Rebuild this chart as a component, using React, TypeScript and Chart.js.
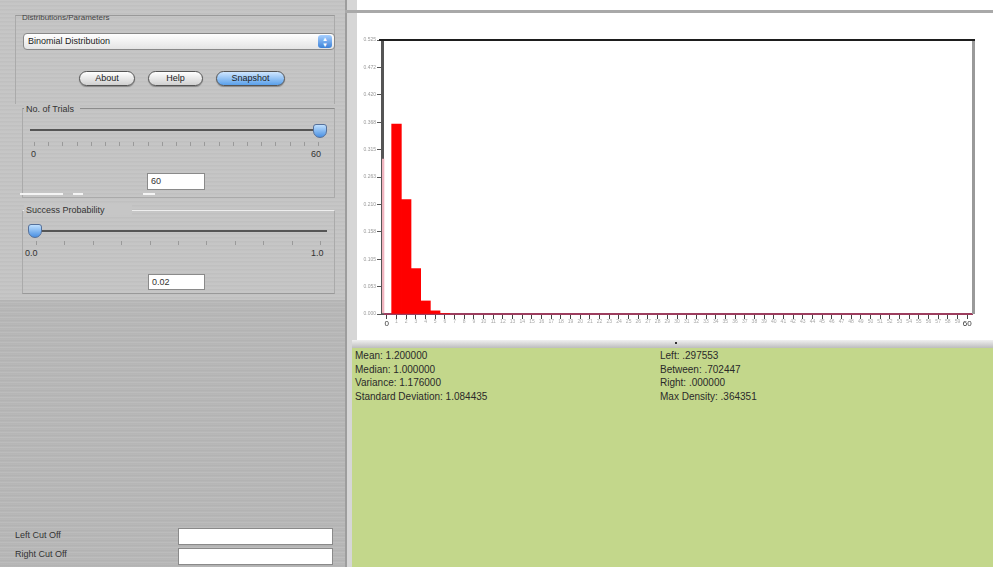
import React, { useEffect, useRef } from "react";
import Chart from "chart.js/auto";

// ---- data ----
const xCategories: string[] = Array.from({ length: 61 }, (_, i) => String(i));
const probabilities: number[] = [0.298, 0.364, 0.219, 0.087, 0.025, 0.006, 0.001];
const yMax = 0.525;
const yTickCount = 11;

const statsLeft: string[] = [
  "Mean: 1.200000",
  "Median: 1.000000",
  "Variance: 1.176000",
  "Standard Deviation: 1.084435",
];
const statsRight: string[] = [
  "Left: .297553",
  "Between: .702447",
  "Right: .000000",
  "Max Density: .364351",
];

const distributionName = "Binomial Distribution";
const trialsValue = "60";
const probValue = "0.02";

const framePlugin = {
  id: "frame",
  afterDraw(chart: any) {
    const { ctx, chartArea } = chart;
    ctx.save();
    ctx.strokeStyle = "#9a9a9a";
    ctx.lineWidth = 3;
    ctx.beginPath();
    ctx.moveTo(chartArea.right + 1.5, chartArea.top);
    ctx.lineTo(chartArea.right + 1.5, chartArea.bottom);
    ctx.stroke();
    ctx.strokeStyle = "#1e1e1e";
    ctx.lineWidth = 2;
    ctx.beginPath();
    ctx.moveTo(chartArea.left - 3, chartArea.top);
    ctx.lineTo(chartArea.right + 3, chartArea.top);
    ctx.stroke();
    ctx.restore();
  },
};

const font = "'Liberation Sans', Arial, sans-serif";

const abs = (l: number, t: number, w?: number, h?: number): React.CSSProperties => ({
  position: "absolute",
  left: l,
  top: t,
  width: w,
  height: h,
});

function Label({ x, y, text, size = 9, color = "#333", italic = false }: any) {
  return (
    <div
      style={{
        ...abs(x, y),
        fontSize: size,
        color,
        whiteSpace: "nowrap",
        lineHeight: "1",
        fontStyle: italic ? "italic" : "normal",
      }}
    >
      {text}
    </div>
  );
}

function Thumb({ x, y }: { x: number; y: number }) {
  return (
    <div
      style={{
        ...abs(x, y, 14, 14),
        background: "linear-gradient(#bfe0ff, #4a90e2)",
        border: "1px solid #55709a",
        borderRadius: "3px 3px 7px 7px",
        boxSizing: "border-box",
      }}
    />
  );
}

function Field({ x, y, w, h, text }: any) {
  return (
    <div
      style={{
        ...abs(x, y, w, h),
        background: "#fff",
        border: "1px solid #8a8a8a",
        boxSizing: "border-box",
        fontSize: 9,
        color: "#333",
        paddingLeft: 3,
        lineHeight: `${h - 2}px`,
      }}
    >
      {text}
    </div>
  );
}

function Button({ x, y, w, text, blue = false }: any) {
  return (
    <div
      style={{
        ...abs(x, y, w, 15),
        borderRadius: 8,
        border: "1px solid #555",
        boxSizing: "border-box",
        background: blue
          ? "linear-gradient(#cfe6ff, #5aa0ea)"
          : "linear-gradient(#ffffff, #d0d0d0)",
        fontSize: 9,
        color: "#222",
        textAlign: "center",
        lineHeight: "13px",
        boxShadow: "0 1px 1px rgba(0,0,0,0.3)",
      }}
    >
      {text}
    </div>
  );
}

function Ticks({ x1, x2, y, n }: any) {
  const items = [];
  for (let i = 0; i <= n; i++) {
    items.push(
      <div
        key={i}
        style={{
          ...abs(x1 + ((x2 - x1) * i) / n, y, 1, 4),
          background: "#9a9a9a",
        }}
      />
    );
  }
  return <>{items}</>;
}

function ChartPanel() {
  const ref = useRef<HTMLCanvasElement | null>(null);
  useEffect(() => {
    if (!ref.current) return;
    const chart = new Chart(ref.current, {
      type: "bar",
      data: {
        labels: xCategories,
        datasets: [
          {
            data: probabilities,
            backgroundColor: (c: any) => (c.dataIndex === 0 ? "rgba(0,0,0,0)" : "#ff0000"),
            borderColor: "#f0b4bf",
            borderWidth: (c: any) =>
              c.dataIndex === 0 ? { left: 2, top: 0, right: 0, bottom: 0 } : 0,
            borderSkipped: false,
            barPercentage: 1,
            categoryPercentage: 1,
          },
        ],
      },
      options: {
        animation: false,
        responsive: false,
        maintainAspectRatio: false,
        layout: { padding: { top: 28, right: 18, left: 0, bottom: 0 } },
        plugins: { legend: { display: false }, tooltip: { enabled: false } },
        scales: {
          x: {
            type: "category",
            offset: true,
            afterFit: (s: any) => {
              s.height = 24;
            },
            border: { color: "#9c3d5e", width: 2 },
            grid: { drawOnChartArea: false, drawTicks: true, tickLength: 5, color: "#444", offset: false },
            ticks: {
              autoSkip: false,
              maxRotation: 0,
              minRotation: 0,
              padding: 0,
              font: (c: any) => ({
                size: c.index === 0 || c.index === 60 ? 8 : 5,
                family: font,
              }),
              color: (c: any) => (c.index === 0 || c.index === 60 ? "#333" : "#a8a8a8"),
            },
          },
          y: {
            min: 0,
            max: yMax,
            afterFit: (s: any) => {
              s.width = 32;
            },
            border: { color: "#555", width: 3 },
            grid: { drawOnChartArea: false, drawTicks: true, tickLength: 5, color: "#555" },
            ticks: {
              count: yTickCount,
              padding: 1,
              font: { size: 5, family: font },
              color: "#999",
              callback: (v: any) => Number(v).toFixed(3),
            },
          },
        },
      },
      plugins: [framePlugin],
    } as any);
    return () => chart.destroy();
  }, []);
  return (
    <canvas
      ref={ref}
      width={640}
      height={326}
      style={{ ...abs(350, 12, 640, 326), display: "block" }}
    />
  );
}

export default function App() {
  useEffect(() => {
    document.body.style.margin = "0";
  }, []);
  return (
    <div
      style={{
        position: "relative",
        width: 993,
        height: 567,
        overflow: "hidden",
        fontFamily: font,
        background: "#fff",
      }}
    >
      {/* left panel */}
      <div
        style={{
          ...abs(0, 0, 345, 567),
          background:
            "repeating-linear-gradient(180deg, #c6c6c6 0px, #c6c6c6 1px, #bababa 2px, #cbcbcb 3px, #c0c0c0 4px)",
        }}
      />
      <div
        style={{
          ...abs(0, 300, 345, 267),
          background:
            "repeating-linear-gradient(180deg, #b9b9b9 0px, #adadad 1px, #c0c0c0 2px, #b3b3b3 4px, #bcbcbc 5px)",
        }}
      />
      {/* Distributions group */}
      <div style={{ ...abs(15, 15, 318, 88), borderTop: "1px solid #999", borderLeft: "1px solid #aaa", borderRight: "1px solid #aaa" }} />
      <Label x={22} y={14} text="Distributions/Parameters" size={8} color="#444" />
      <div
        style={{
          ...abs(23, 33, 312, 17),
          background: "linear-gradient(#ffffff, #e4e4e4)",
          border: "1px solid #888",
          borderRadius: 4,
          boxSizing: "border-box",
          fontSize: 9,
          color: "#222",
          paddingLeft: 4,
          lineHeight: "15px",
        }}
      >
        {distributionName}
      </div>
      <div
        style={{
          ...abs(318, 35, 14, 13),
          background: "linear-gradient(#a8d0ff, #3d82d8)",
          borderRadius: 3,
          color: "#fff",
          fontSize: 6,
          lineHeight: "6px",
          textAlign: "center",
          paddingTop: 1,
          boxSizing: "border-box",
        }}
      >
        ▲<br />▼
      </div>
      <Button x={79} y={71} w={56} text="About" />
      <Button x={148} y={71} w={55} text="Help" />
      <Button x={216} y={71} w={69} text="Snapshot" blue />

      {/* No. of Trials */}
      <div style={{ ...abs(22, 108, 311, 88), borderTop: "1px solid #8c8c8c", borderLeft: "1px solid #aaa", borderRight: "1px solid #aaa", borderBottom: "1px solid #aaa" }} />
      <div style={{ ...abs(24, 104, 56, 10), background: "#c4c4c4" }} />
      <Label x={26} y={105} text="No. of Trials" size={9} color="#333" />
      <div style={{ ...abs(30, 129, 292, 2), background: "#555" }} />
      <Ticks x1={34} x2={318} y={142} n={20} />
      <Thumb x={313} y={124} />
      <Label x={31} y={150} text="0" size={9} />
      <Label x={311} y={150} text="60" size={9} />
      <Field x={147} y={173} w={58} h={17} text={trialsValue} />
      <div style={{ ...abs(20, 193, 43, 2), background: "#f4f4f4" }} />
      <div style={{ ...abs(73, 193, 10, 2), background: "#f4f4f4" }} />
      <div style={{ ...abs(143, 193, 12, 2), background: "#f4f4f4" }} />

      {/* Success Probability */}
      <div style={{ ...abs(22, 210, 311, 82), borderTop: "1px solid #eee", borderLeft: "1px solid #aaa", borderRight: "1px solid #aaa", borderBottom: "1px solid #999" }} />
      <div style={{ ...abs(24, 205, 108, 10), background: "#c6c6c6" }} />
      <Label x={26} y={206} text="Success Probability" size={9} color="#333" />
      <div style={{ ...abs(30, 230, 297, 2), background: "#555" }} />
      <Ticks x1={36} x2={320} y={241} n={10} />
      <Thumb x={28} y={224} />
      <Label x={25} y={249} text="0.0" size={9} />
      <Label x={311} y={249} text="1.0" size={9} />
      <Field x={148} y={274} w={57} h={16} text={probValue} />

      {/* Cut offs */}
      <Label x={15} y={531} text="Left Cut Off" size={9} color="#333" />
      <Field x={178} y={528} w={155} h={17} text="" />
      <Label x={15} y={550} text="Right Cut Off" size={9} color="#333" />
      <Field x={178} y={548} w={155} h={17} text="" />

      {/* vertical splitter */}
      <div style={{ ...abs(345, 0, 2, 567), background: "#9d9d9d" }} />
      <div style={{ ...abs(347, 0, 10, 567), background: "#d6d6d6" }} />
      <div style={{ ...abs(357, 0, 636, 340), background: "#fff" }} />
      <div style={{ ...abs(345, 10, 648, 3), background: "#a9a9a9" }} />

      <ChartPanel />

      {/* horizontal splitter */}
      <div style={{ ...abs(352, 340, 641, 8), background: "linear-gradient(#f0f0f0, #bdbdbd)" }} />
      <div style={{ ...abs(675, 342, 2, 2), background: "#333" }} />

      {/* stats panel */}
      <div style={{ ...abs(352, 348, 641, 219), background: "#c3d78b" }} />
      {statsLeft.map((t, i) => (
        <Label key={"l" + i} x={355} y={351 + i * 13.6} text={t} size={10} color="#2a2a2a" />
      ))}
      {statsRight.map((t, i) => (
        <Label key={"r" + i} x={660} y={351 + i * 13.6} text={t} size={10} color="#2a2a2a" />
      ))}
    </div>
  );
}
